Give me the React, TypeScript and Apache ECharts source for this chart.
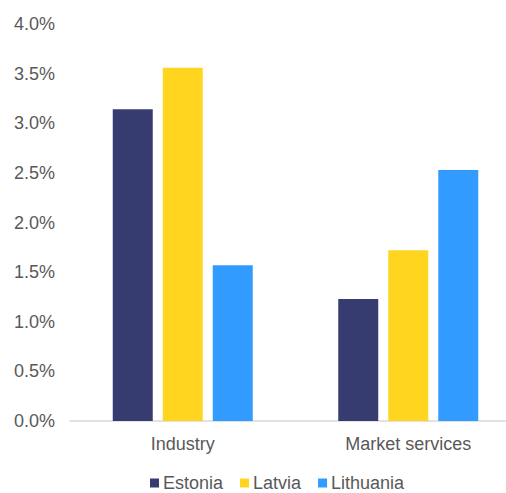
import React, { useEffect, useRef } from "react";
import * as echarts from "echarts";

const categories = ["Industry", "Market services"];
const seriesNames = ["Estonia", "Latvia", "Lithuania"];
const estonia = [3.14, 1.23];
const latvia = [3.56, 1.72];
const lithuania = [1.57, 2.53];
const colors = ["#363c70", "#ffd520", "#329bff"];

export default function App() {
  const ref = useRef<HTMLDivElement>(null);
  useEffect(() => {
    if (!ref.current) return;
    const chart = echarts.init(ref.current, undefined, { renderer: "svg" });
    const font = "'Liberation Sans', Arial, sans-serif";
    const values = [estonia, latvia, lithuania];
    chart.setOption({
      animation: false,
      textStyle: { fontFamily: font },
      grid: { left: 70, width: 451, top: 24, height: 397, containLabel: false },
      legend: {
        left: 150,
        top: 474,
        padding: 0,
        itemWidth: 9,
        itemHeight: 9,
        itemGap: 17,
        icon: "rect",
        textStyle: { fontSize: 18, color: "#595959", fontFamily: font, padding: [0, 0, 0, -1] },
        data: seriesNames,
      },
      xAxis: {
        type: "category",
        data: categories,
        axisLine: { lineStyle: { color: "#d9d9d9", width: 1.5 } },
        axisTick: { show: false },
        axisLabel: { fontSize: 18, color: "#595959", margin: 14, fontFamily: font },
      },
      yAxis: {
        type: "value",
        min: 0,
        max: 4,
        interval: 0.5,
        axisLine: { show: false },
        axisTick: { show: false },
        splitLine: { show: false },
        axisLabel: {
          fontSize: 18,
          color: "#595959",
          margin: 15,
          fontFamily: font,
          formatter: (v: number) => v.toFixed(1) + "%",
        },
      },
      series: seriesNames.map((name, i) => ({
        name,
        type: "bar",
        data: values[i],
        barWidth: 40,
        barGap: "25%",
        itemStyle: { color: colors[i] },
      })),
    });
    return () => chart.dispose();
  }, []);
  return (
    <div
      style={{ position: "fixed", left: 0, top: 0, width: 506, height: 493, overflow: "hidden", background: "#fff" }}
    >
      <div ref={ref} style={{ width: 540, height: 493 }} />
    </div>
  );
}
